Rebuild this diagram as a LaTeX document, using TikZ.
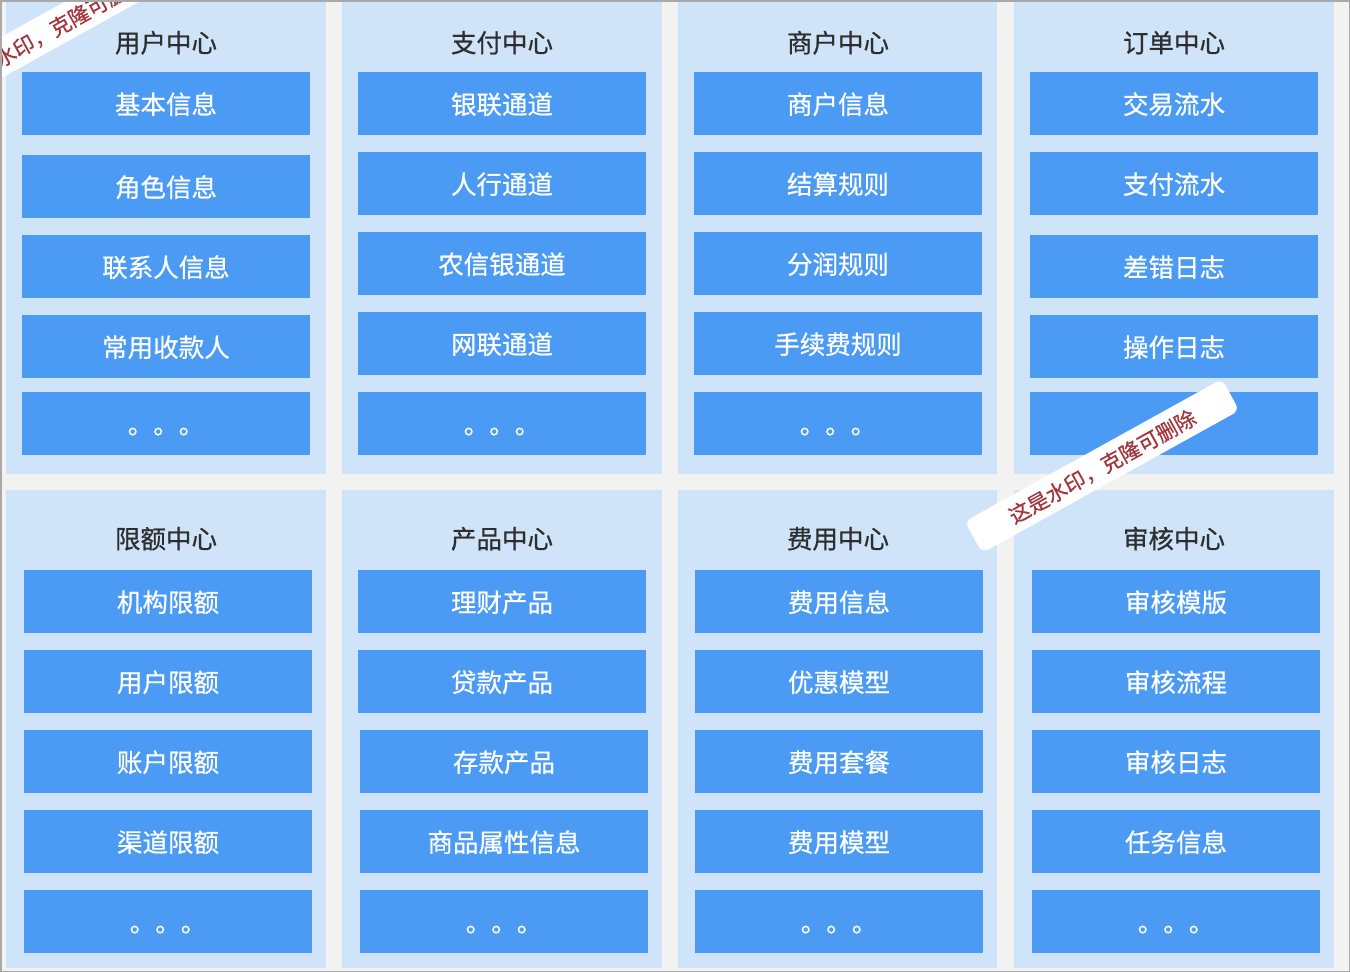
\documentclass[tikz,border=0pt]{standalone}
\usepackage{fontspec}
\newfontfamily\cjk[FakeBold=0.6]{Noto Sans CJK SC}
\definecolor{bgcol}{HTML}{F2F2F2}
\definecolor{panelcol}{HTML}{CFE3F9}
\definecolor{itemcol}{HTML}{4B9BF5}
\definecolor{titlecol}{HTML}{2E2E2E}
\definecolor{wmcol}{HTML}{A3363C}
\definecolor{framecol}{HTML}{A9A9A9}
\tikzset{
  panelbox/.style={fill=panelcol, draw=none, inner sep=0pt, minimum width=320pt, minimum height=472pt},
  titletext/.style={font=\cjk\fontsize{25.5}{30}\selectfont, text=titlecol, inner sep=0pt, text height=22pt, text depth=1.2pt},
  itembox/.style={fill=itemcol, draw=none, inner sep=0pt, minimum width=288pt, minimum height=63pt,
    font=\cjk\fontsize{25.5}{30}\selectfont, text=white, text height=22pt, text depth=1.2pt},
  watermark/.style={fill=white, draw=none, rounded corners=7pt, rotate=29, inner xsep=42pt, inner ysep=0pt,
    minimum height=36pt, font=\cjk\fontsize{21}{25}\selectfont, text=wmcol, text height=18.4pt, text depth=1.2pt}
}
\newcommand\bx[4]{\node[itembox] (#1) at ({#2+144},{#3+31.5}) {#4};}
\begin{document}
\begin{tikzpicture}[x=1pt,y=-1pt]
\useasboundingbox (0,0) rectangle (1350,972);
\clip (0,0) rectangle (1350,972);
\fill[bgcol] (0,0) rectangle (1350,972);
% panels top row
\node[panelbox] (p1) at (166,238) {};
\node[panelbox] (p2) at (502,238) {};
\node[panelbox, minimum width=319pt] (p3) at (837.5,238) {};
\node[panelbox] (p4) at (1174,238) {};
% panels bottom row
\node[panelbox, minimum height=478pt] (p5) at (166,729) {};
\node[panelbox, minimum height=478pt] (p6) at (502,729) {};
\node[panelbox, minimum height=478pt, minimum width=319pt] (p7) at (837.5,729) {};
\node[panelbox, minimum height=478pt] (p8) at (1174,729) {};
% titles
\node[titletext] (t1) at (166,42) {用户中心};
\node[titletext] (t2) at (502,42) {支付中心};
\node[titletext] (t3) at (838,42) {商户中心};
\node[titletext] (t4) at (1174,42) {订单中心};
\node[titletext] (t5) at (166,538) {限额中心};
\node[titletext] (t6) at (502,538) {产品中心};
\node[titletext] (t7) at (838,538) {费用中心};
\node[titletext] (t8) at (1174,538) {审核中心};
% panel 1
\bx{a1}{22}{72}{基本信息}
\bx{a2}{22}{155}{角色信息}
\bx{a3}{22}{235}{联系人信息}
\bx{a4}{22}{315}{常用收款人}
\bx{a5}{22}{392}{。。。}
% panel 2
\bx{b1}{358}{72}{银联通道}
\bx{b2}{358}{152}{人行通道}
\bx{b3}{358}{232}{农信银通道}
\bx{b4}{358}{312}{网联通道}
\bx{b5}{358}{392}{。。。}
% panel 3
\bx{c1}{694}{72}{商户信息}
\bx{c2}{694}{152}{结算规则}
\bx{c3}{694}{232}{分润规则}
\bx{c4}{694}{312}{手续费规则}
\bx{c5}{694}{392}{。。。}
% panel 4
\bx{d1}{1030}{72}{交易流水}
\bx{d2}{1030}{152}{支付流水}
\bx{d3}{1030}{235}{差错日志}
\bx{d4}{1030}{315}{操作日志}
\bx{d5}{1030}{392}{}
% panel 5
\bx{e1}{24}{570}{机构限额}
\bx{e2}{24}{650}{用户限额}
\bx{e3}{24}{730}{账户限额}
\bx{e4}{24}{810}{渠道限额}
\bx{e5}{24}{890}{。。。}
% panel 6
\bx{f1}{358}{570}{理财产品}
\bx{f2}{358}{650}{贷款产品}
\bx{f3}{360}{730}{存款产品}
\bx{f4}{360}{810}{商品属性信息}
\bx{f5}{360}{890}{。。。}
% panel 7
\bx{g1}{695}{570}{费用信息}
\bx{g2}{695}{650}{优惠模型}
\bx{g3}{695}{730}{费用套餐}
\bx{g4}{695}{810}{费用模型}
\bx{g5}{695}{890}{。。。}
% panel 8
\bx{h1}{1032}{570}{审核模版}
\bx{h2}{1032}{650}{审核流程}
\bx{h3}{1032}{730}{审核日志}
\bx{h4}{1032}{810}{任务信息}
\bx{h5}{1032}{890}{。。。}
% watermarks
\node[watermark] (w1) at (51,30) {这是水印，克隆可删除};
\node[watermark] (w2) at (1102,466) {这是水印，克隆可删除};
% frame
\draw[framecol, line width=1.5pt] (0.75,0.75) rectangle (1349.25,971.25);
\end{tikzpicture}
\end{document}
